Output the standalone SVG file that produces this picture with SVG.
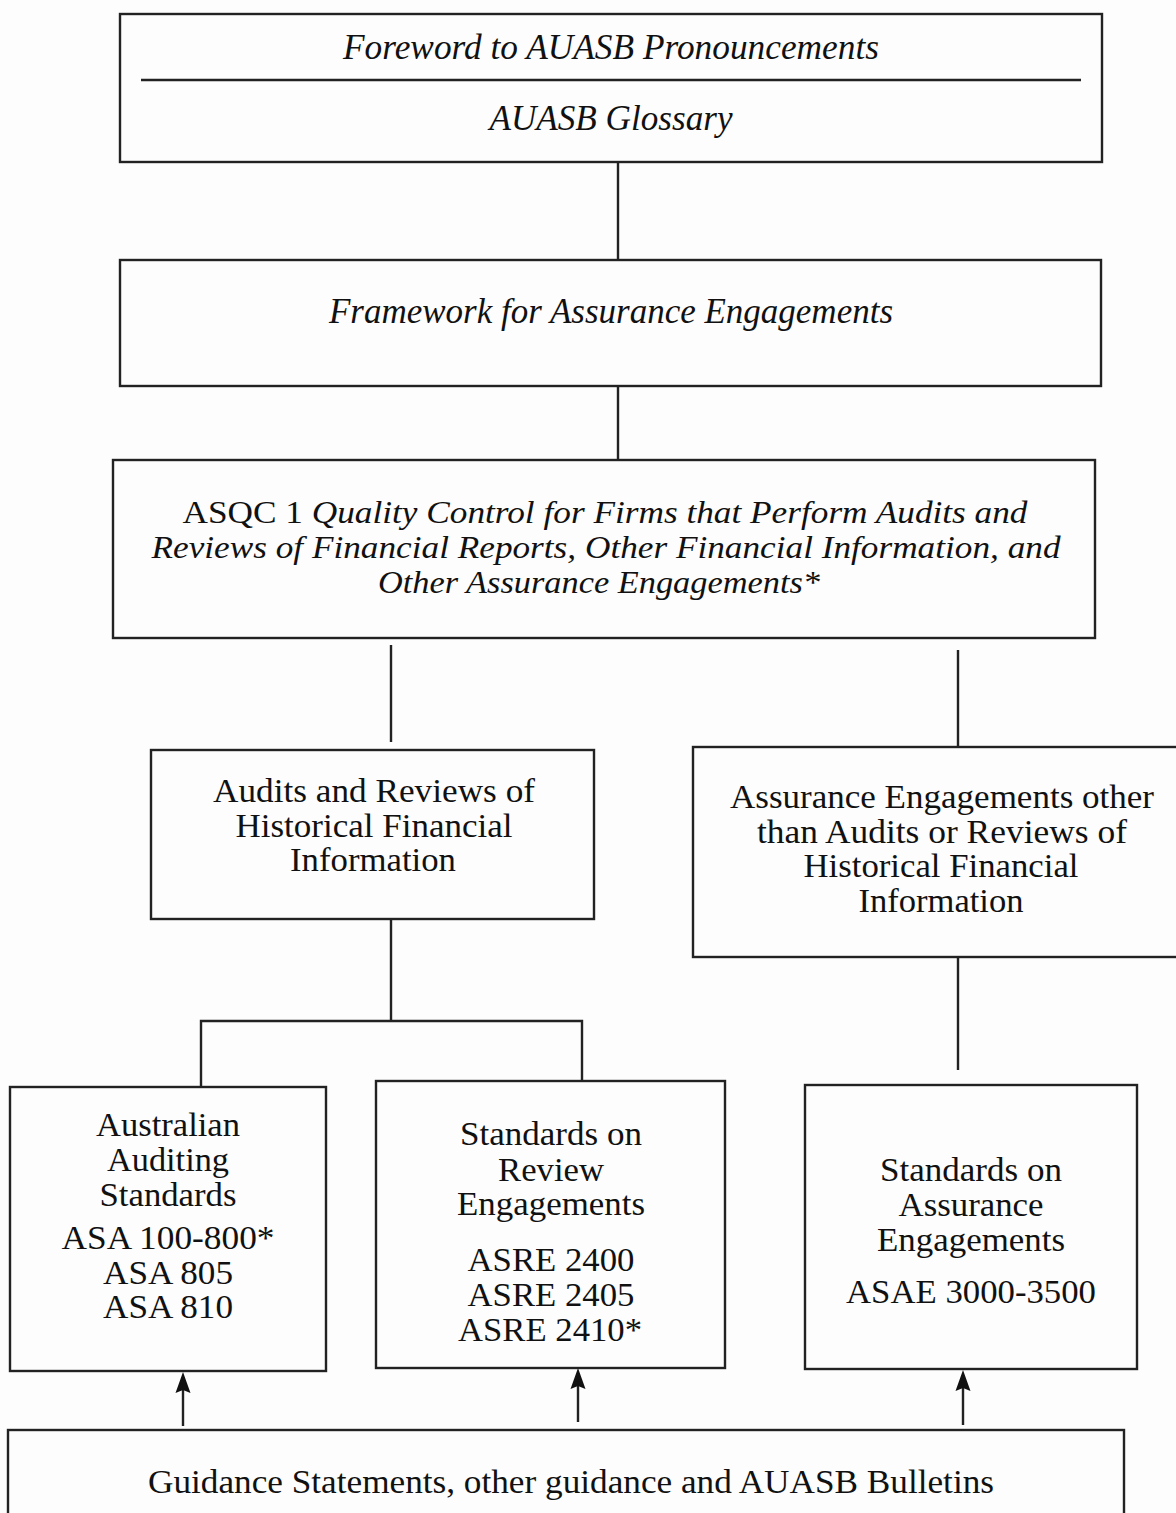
<svg xmlns="http://www.w3.org/2000/svg" width="1176" height="1513" viewBox="0 0 1176 1513">
<style>
.box{fill:none;stroke:#222;stroke-width:2.4}
.ln{fill:none;stroke:#222;stroke-width:2.4}
.ah{fill:#111}
text{font-family:"Liberation Serif","Times New Roman",serif;fill:#111;text-anchor:middle}
.it{font-style:italic;font-size:35px}
.it2{font-style:italic;font-size:32px}
.up{font-size:33px}
</style>
<rect width="1176" height="1513" fill="#fcfdfc"/>
<g id="connectors">
<line class="ln" x1="618" y1="162" x2="618" y2="260"/>
<line class="ln" x1="618" y1="386" x2="618" y2="460"/>
<line class="ln" x1="391" y1="645" x2="391" y2="742"/>
<line class="ln" x1="958" y1="650" x2="958" y2="747"/>
<line class="ln" x1="391" y1="919" x2="391" y2="1021"/>
<polyline class="ln" points="201,1087 201,1021 582,1021 582,1082"/>
<line class="ln" x1="958" y1="957" x2="958" y2="1070"/>
<line class="ln" x1="183" y1="1426" x2="183" y2="1388"/>
<path class="ah" d="M183,1372 L190.5,1393 L183,1390 L175.5,1393 Z"/>
<line class="ln" x1="578" y1="1422" x2="578" y2="1384"/>
<path class="ah" d="M578,1368 L585.5,1389 L578,1386 L570.5,1389 Z"/>
<line class="ln" x1="963" y1="1425" x2="963" y2="1386"/>
<path class="ah" d="M963,1370 L970.5,1391 L963,1388 L955.5,1391 Z"/>
</g>
<g id="foreword">
<rect class="box" x="120" y="14" width="982" height="148"/>
<line class="ln" x1="141" y1="80" x2="1081" y2="80"/>
<text class="it" x="611" y="59" textLength="536" lengthAdjust="spacingAndGlyphs">Foreword to AUASB Pronouncements</text>
<text class="it" x="611" y="130" textLength="243" lengthAdjust="spacingAndGlyphs">AUASB Glossary</text>
</g>
<g id="framework">
<rect class="box" x="120" y="260" width="981" height="126"/>
<text class="it" x="611" y="323" textLength="564" lengthAdjust="spacingAndGlyphs">Framework for Assurance Engagements</text>
</g>
<g id="asqc">
<rect class="box" x="113" y="460" width="982" height="178"/>
<text class="it2" x="605" y="523" textLength="845" lengthAdjust="spacingAndGlyphs"><tspan font-style="normal">ASQC 1 </tspan>Quality Control for Firms that Perform Audits and</text>
<text class="it2" x="606" y="558" textLength="909" lengthAdjust="spacingAndGlyphs">Reviews of Financial Reports, Other Financial Information, and</text>
<text class="it2" x="599" y="593" textLength="442" lengthAdjust="spacingAndGlyphs">Other Assurance Engagements*</text>
</g>
<g id="audits">
<rect class="box" x="151" y="750" width="443" height="169"/>
<text class="up" x="374" y="802" textLength="322" lengthAdjust="spacingAndGlyphs">Audits and Reviews of</text>
<text class="up" x="374" y="837" textLength="277" lengthAdjust="spacingAndGlyphs">Historical Financial</text>
<text class="up" x="373" y="871" textLength="166" lengthAdjust="spacingAndGlyphs">Information</text>
</g>
<g id="other">
<rect class="box" x="693" y="747" width="490" height="210"/>
<text class="up" x="942" y="808" textLength="424" lengthAdjust="spacingAndGlyphs">Assurance Engagements other</text>
<text class="up" x="942" y="843" textLength="370" lengthAdjust="spacingAndGlyphs">than Audits or Reviews of</text>
<text class="up" x="941" y="877" textLength="275" lengthAdjust="spacingAndGlyphs">Historical Financial</text>
<text class="up" x="941" y="912" textLength="165" lengthAdjust="spacingAndGlyphs">Information</text>
</g>
<g id="asa">
<rect class="box" x="10" y="1087" width="316" height="284"/>
<text class="up" x="168" y="1136" textLength="144" lengthAdjust="spacingAndGlyphs">Australian</text>
<text class="up" x="168" y="1171" textLength="122" lengthAdjust="spacingAndGlyphs">Auditing</text>
<text class="up" x="168" y="1206" textLength="137" lengthAdjust="spacingAndGlyphs">Standards</text>
<text class="up" x="168" y="1249" textLength="213" lengthAdjust="spacingAndGlyphs">ASA 100-800*</text>
<text class="up" x="168" y="1284" textLength="130" lengthAdjust="spacingAndGlyphs">ASA 805</text>
<text class="up" x="168" y="1318" textLength="130" lengthAdjust="spacingAndGlyphs">ASA 810</text>
</g>
<g id="asre">
<rect class="box" x="376" y="1081" width="349" height="287"/>
<text class="up" x="551" y="1145" textLength="182" lengthAdjust="spacingAndGlyphs">Standards on</text>
<text class="up" x="551" y="1181" textLength="106" lengthAdjust="spacingAndGlyphs">Review</text>
<text class="up" x="551" y="1215" textLength="188" lengthAdjust="spacingAndGlyphs">Engagements</text>
<text class="up" x="551" y="1271" textLength="167" lengthAdjust="spacingAndGlyphs">ASRE 2400</text>
<text class="up" x="551" y="1306" textLength="167" lengthAdjust="spacingAndGlyphs">ASRE 2405</text>
<text class="up" x="550" y="1341" textLength="184" lengthAdjust="spacingAndGlyphs">ASRE 2410*</text>
</g>
<g id="asae">
<rect class="box" x="805" y="1085" width="332" height="284"/>
<text class="up" x="971" y="1181" textLength="182" lengthAdjust="spacingAndGlyphs">Standards on</text>
<text class="up" x="971" y="1216" textLength="145" lengthAdjust="spacingAndGlyphs">Assurance</text>
<text class="up" x="971" y="1251" textLength="188" lengthAdjust="spacingAndGlyphs">Engagements</text>
<text class="up" x="971" y="1303" textLength="250" lengthAdjust="spacingAndGlyphs">ASAE 3000-3500</text>
</g>
<g id="guidance">
<rect class="box" x="8" y="1430" width="1116" height="100"/>
<text class="up" x="571" y="1493" textLength="846" lengthAdjust="spacingAndGlyphs">Guidance Statements, other guidance and AUASB Bulletins</text>
</g>
</svg>
